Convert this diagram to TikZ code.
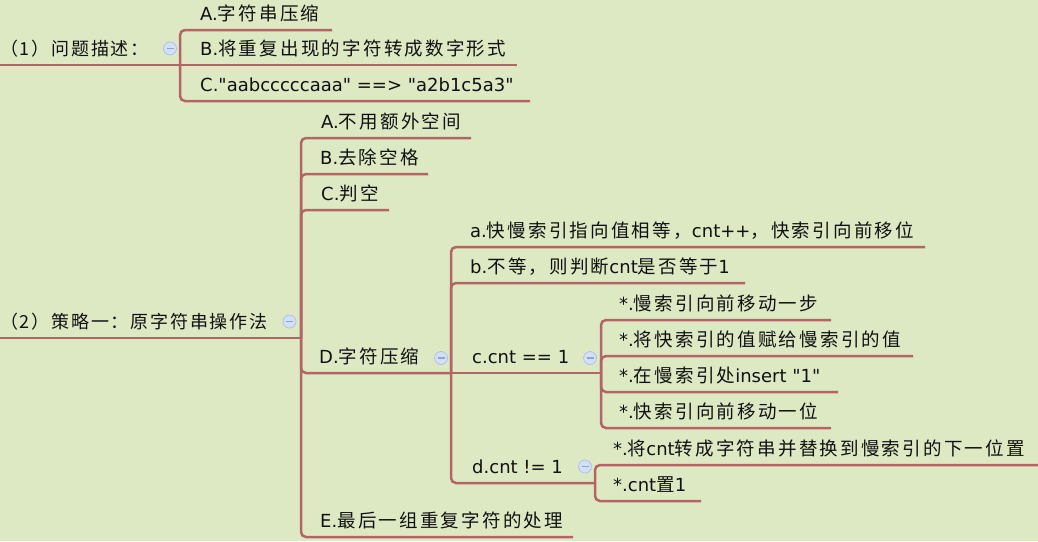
\documentclass[tikz,border=0pt]{standalone}
\usepackage{fontspec}
\setmainfont{DejaVu Sans}[Ligatures=TeXOff]
\newfontfamily\cjk{Noto Sans CJK SC}[LetterSpace=12]
\newfontfamily\cjkroot{Noto Sans CJK SC}[LetterSpace=10]
\newcommand\zh[1]{{\fontsize{18.5}{21}\cjk #1}}
\definecolor{mmBg}{HTML}{DDE9C3}
\definecolor{mmLine}{HTML}{B46464}
\definecolor{mmFill}{HTML}{D3DFF5}
\definecolor{mmRing}{HTML}{AEC2EC}
\definecolor{mmMinus}{HTML}{8FA3D0}
\definecolor{mmText}{HTML}{111111}
\tikzset{
  conn/.style={draw=mmLine, line width=2.5pt, rounded corners=5pt},
  topic/.style={anchor=base west, inner sep=0pt, text=mmText, font=\fontsize{18}{21}\selectfont},
  roottopic/.style={topic, font=\fontsize{18}{21}\cjkroot},
  fold/.style={circle, fill=mmFill, draw=mmRing, line width=0.8pt, minimum size=13pt, inner sep=0pt,
    path picture={\draw[draw=mmMinus, line width=1.2pt] ([xshift=-3.5pt]path picture bounding box.center) -- ([xshift=3.5pt]path picture bounding box.center);}}
}
\begin{document}
\begin{tikzpicture}[x=1pt,y=-1pt]
\fill[mmBg] (0,0) rectangle (1038,541);
\useasboundingbox (0,0) rectangle (1038,541);

% ---------- junction points ----------
\coordinate (r1s) at (0,65);
\coordinate (j1)  at (180,65);
\coordinate (r2s) at (0,338);
\coordinate (j2)  at (301,338);
\coordinate (jD)  at (451,373);
\coordinate (jc)  at (601,373);
\coordinate (jd)  at (595,483);

% ---------- underline ends ----------
\coordinate (a1e) at (332,30);
\coordinate (b1e) at (517,65);
\coordinate (c1e) at (530,101);
\coordinate (a2e) at (471,138);
\coordinate (b2e) at (428,174);
\coordinate (c2e) at (389,210);
\coordinate (e2e) at (573,537);
\coordinate (dae) at (925,247);
\coordinate (dbe) at (745,283);
\coordinate (s1e) at (831,320);
\coordinate (s2e) at (913,356);
\coordinate (s3e) at (838,392);
\coordinate (s4e) at (831,428);
\coordinate (t1e) at (1038,465);
\coordinate (t2e) at (701,501);

% ---------- connectors ----------
\draw[conn] (r1s) -- (j1);
\draw[conn] (j1) |- (a1e);
\draw[conn] (j1) -- (b1e);
\draw[conn] (j1) |- (c1e);

\draw[conn] (r2s) -- (j2);
\draw[conn] (j2) |- (a2e);
\draw[conn] (j2) |- (b2e);
\draw[conn] (j2) |- (c2e);
\draw[conn] (j2) |- (jD);
\draw[conn] (j2) |- (e2e);

\draw[conn] (jD) |- (dae);
\draw[conn] (jD) |- (dbe);
\draw[conn] (jD) -- (jc);
\draw[conn] (jD) |- (jd);

\draw[conn] (jc) |- (s1e);
\draw[conn] (jc) |- (s2e);
\draw[conn] (jc) |- (s3e);
\draw[conn] (jc) |- (s4e);

\draw[conn] (jd) |- (t1e);
\draw[conn] (jd) |- (t2e);

% ---------- texts ----------
\node[roottopic] (r1) at (0,55) {（1）问题描述：};
\node[topic] (a1) at (200,20) {A.\zh{字符串压缩}};
\node[topic] (b1) at (200,55) {B.\zh{将重复出现的字符转成数字形式}};
\node[topic] (c1) at (200,91) {C."aabcccccaaa" ==> "a2b1c5a3"};

\node[roottopic] (r2) at (0,328) {（2）策略一：原字符串操作法};
\node[topic] (a2) at (321,128) {A.\zh{不用额外空间}};
\node[topic] (b2) at (320,164) {B.\zh{去除空格}};
\node[topic] (c2) at (321,200) {C.\zh{判空}};
\node[topic] (d2) at (319,363) {D.\zh{字符压缩}};
\node[topic] (e2) at (320,527) {E.\zh{最后一组重复字符的处理}};

\node[topic] (da) at (470,237) {a.\zh{快慢索引指向值相等，}cnt++\zh{，快索引向前移位}};
\node[topic] (db) at (470,273) {b.\zh{不等，则判断}cnt\zh{是否等于}1};
\node[topic] (dc) at (472,363) {c.cnt == 1};
\node[topic] (dd) at (472,473) {d.cnt != 1};

\node[topic] (s1) at (619,310) {*.\zh{慢索引向前移动一步}};
\node[topic] (s2) at (619,346) {*.\zh{将快索引的值赋给慢索引的值}};
\node[topic] (s3) at (619,382) {*.\zh{在慢索引处}insert "1"};
\node[topic] (s4) at (619,418) {*.\zh{快索引向前移动一位}};

\node[topic] (t1) at (613,455) {*.\zh{将}cnt\zh{转成字符串并替换到慢索引的下一位置}};
\node[topic] (t2) at (613,491) {*.cnt\zh{置}1};

% ---------- fold markers ----------
\node[fold] (f1) at (170,48.5) {};
\node[fold] (f2) at (289.5,321.5) {};
\node[fold] (fD) at (441,358) {};
\node[fold] (fc) at (590,358) {};
\node[fold] (fd) at (585,466.5) {};
\end{tikzpicture}
\end{document}
